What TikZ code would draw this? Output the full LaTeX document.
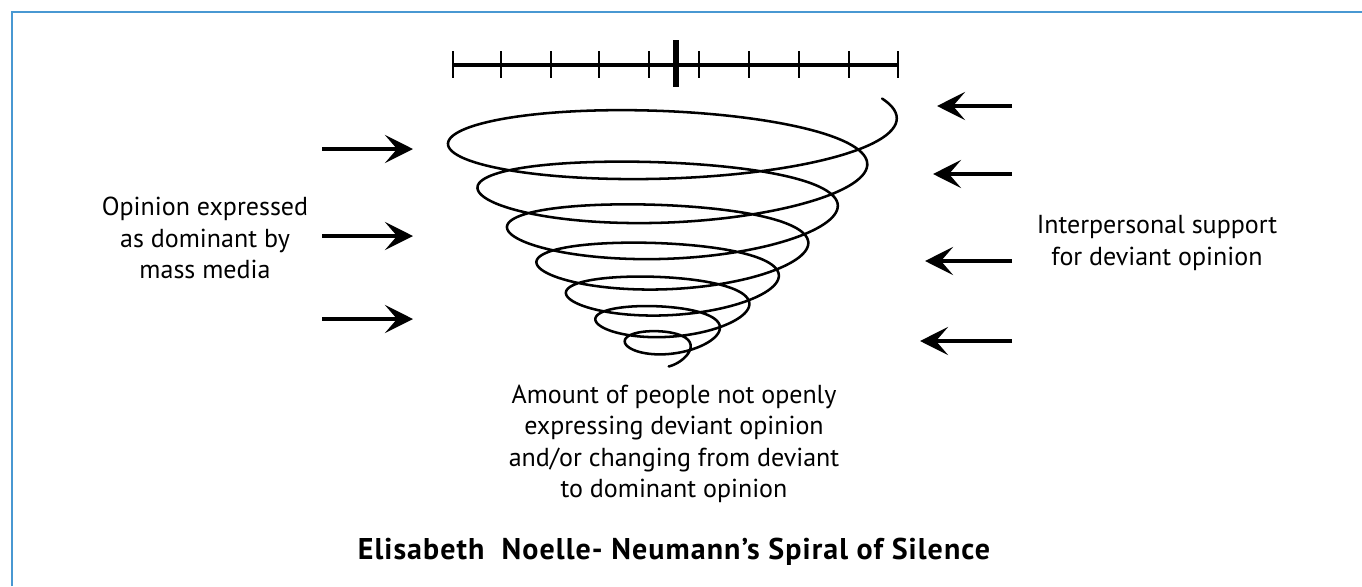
\documentclass[tikz,border=0pt]{standalone}
\usepackage{fontspec}
\setmainfont{PT Sans}
\usetikzlibrary{arrows.meta}
\definecolor{frameblue}{RGB}{72,152,210}
\begin{document}
\begin{tikzpicture}[x=0.75pt,y=-0.75pt,
  lbl/.style={align=center, font=\fontsize{19.5}{23.6}\selectfont, inner sep=0pt},
  ttl/.style={font=\bfseries\fontsize{22.5}{24}\selectfont\addfontfeatures{LetterSpace=3.5}, inner sep=0pt},
  bigarrow/.style={line width=3pt, -{Stealth[length=21pt,width=21pt,inset=9pt]}},
  ruler/.style={line width=2.4pt},
  ticksmall/.style={line width=2.2pt},
  tickbig/.style={line width=3.8pt},
  spiral/.style={line width=1.9pt, line join=round, line cap=round}]
\useasboundingbox (0,0) rectangle (1362,586);
\fill[white] (0,0) rectangle (1362,586);
\draw[frameblue, line width=1.8pt] (12,586) -- (12,12) -- (1362,12);

% ruler
\coordinate (rl) at (453,65);
\coordinate (rr) at (899,65);
\draw[ruler] (rl) -- (rr);
\foreach \x in {453,501,551,599,649,699,749,799,849,898}
  \draw[ticksmall] (\x,51) -- (\x,78);
\coordinate (ct) at (676,40);
\coordinate (cb) at (676,87);
\draw[tickbig] (ct) -- (cb);

% spiral
\draw[spiral] plot[domain=-0.56:6.72, samples=900, smooth, variable=\u]
  ({665+(217-29.5*\u)*cos(360*\u+180)},
   {143+46*\u-2.2*\u*\u+(46-5*\u)*(1+0.13*sin(360*\u+180)*min(1,max(0,\u)))*sin(360*\u+180)});

% left arrows
\foreach \i/\y in {1/149,2/236,3/319}{
  \coordinate (ls\i) at (322,\y);
  \coordinate (le\i) at (413,\y);
  \draw[bigarrow] (ls\i) -- (le\i);
}
% right arrows
\foreach \i/\y/\t in {1/106/937,2/174/933,3/261/925,4/341/920}{
  \coordinate (rs\i) at (1012,\y);
  \coordinate (re\i) at (\t,\y);
  \draw[bigarrow] (rs\i) -- (re\i);
}

\node[lbl] (media) at (205,238) {Opinion expressed\\as dominant by\\mass media};
\node[lbl] (support) at (1157,243) {Interpersonal support\\for deviant opinion};
\node[lbl] (amount) at (674,444) {Amount of people not openly\\expressing deviant opinion\\and/or changing from deviant\\to dominant opinion};
\node[ttl] (title) at (674,552) {Elisabeth\ \ Noelle- Neumann’s Spiral of Silence};
\end{tikzpicture}
\end{document}
